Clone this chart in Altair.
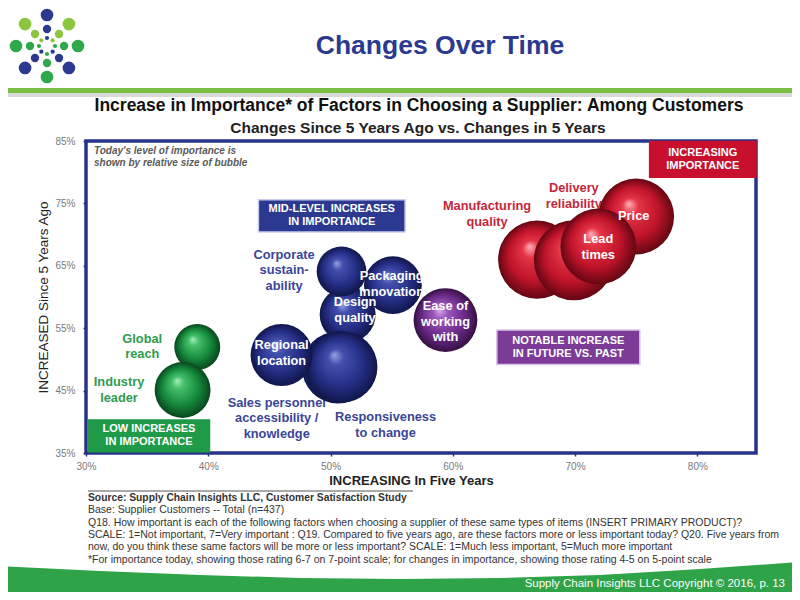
import altair as alt
import numpy as np
import pandas as pd

FONT = "Liberation Sans, Arial, Helvetica, sans-serif"

# ---------------- chart data ----------------
factors = ["Global reach", "Industry leader",
           "Design quality", "Sales personnel accessibility / knowledge",
           "Responsiveness to change", "Regional location",
           "Packaging innovation", "Corporate sustainability",
           "Ease of working with",
           "Manufacturing quality", "Delivery reliability", "Price", "Lead times"]
groups = ["low", "low",
          "mid", "mid", "mid", "mid", "mid", "mid",
          "notable",
          "high", "high", "high", "high"]
increasing_in_five_years = [39.1, 37.9, 51.4, 50.6, 50.9, 46.0, 55.1, 50.9, 59.4, 66.9, 69.9, 75.0, 71.9]
increased_since_five_years = [52.0, 45.1, 57.2, 48.7, 48.8, 50.7, 61.9, 64.1, 56.3, 66.0, 65.9, 72.9, 68.1]
importance_today = [29, 43, 43, 71, 71, 53, 46, 34, 56, 84, 88, 79, 79]

label_text = ["Global\nreach", "Industry\nleader", "Sales personnel\naccessibility /\nknowledge",
              "Responsiveness\nto change", "Corporate\nsustain-\nability",
              "Manufacturing\nquality", "Delivery\nreliability",
              "Regional\nlocation", "Design\nquality", "Packaging\ninnovation",
              "Ease of\nworking\nwith", "Lead\ntimes", "Price"]
label_x = [34.6, 32.7, 45.6, 54.5, 46.2, 62.8, 69.9, 46.0, 52.0, 55.0, 59.4, 71.9, 74.8]
label_y = [52.1, 45.1, 40.6, 39.5, 64.3, 73.3, 76.2, 51.0, 57.9, 62.1, 56.0, 68.0, 73.0]
label_group = ["low", "low", "mid", "mid", "mid", "high", "high",
               "mid", "mid", "mid", "notable", "high", "high"]
label_inside = [False, False, False, False, False, False, False,
                True, True, True, True, True, True]

box_text = ["MID-LEVEL INCREASES\nIN IMPORTANCE", "INCREASING\nIMPORTANCE",
            "NOTABLE INCREASE\nIN FUTURE VS. PAST", "LOW INCREASES\nIN IMPORTANCE"]
box_group = ["mid", "high", "notable", "low"]
box_x1 = [44.1, 76.1, 63.6, 30.2]
box_x2 = [56.1, 84.8, 75.3, 40.1]
box_y1 = [70.4, 79.2, 49.2, 35.2]
box_y2 = [75.6, 84.9, 54.7, 40.3]

x_ticks = [30, 40, 50, 60, 70, 80]
y_ticks = [35, 45, 55, 65, 75, 85]

source_lines = [
    "Source:  Supply Chain Insights LLC, Customer Satisfaction Study",
    "Base: Supplier Customers -- Total (n=437)",
    "Q18. How important is each of the following factors when choosing a supplier of these same types of items (INSERT PRIMARY PRODUCT)?",
    "SCALE: 1=Not important, 7=Very important : Q19. Compared to five years ago, are these factors more or less important today? Q20. Five years from",
    "now, do you think these same factors will be more or less important? SCALE: 1=Much less important, 5=Much more important",
    "*For importance today, showing those rating 6-7 on 7-point scale; for changes in importance, showing those rating 4-5 on 5-point scale",
]

# ---------------- styling ----------------
NAVY = "#27338a"
GROUP_COLOR = {"low": "#2e9c4e", "mid": "#3a4598", "notable": "#7b3a96", "high": "#c4273b"}
BOX_FILL = {"low": "#1f9a48", "mid": "#2b3990", "notable": "#7d3b98", "high": "#c8102e"}
BOX_STROKE = {"low": "#1f9a48", "mid": "#c9cdee", "notable": "#d9c6e6", "high": "#c8102e"}
STOPS = {
    "low": [(0, "#a6efbb"), (0.22, "#45c06c"), (0.65, "#16893c"), (1, "#08461e")],
    "mid": [(0, "#9aa2e4"), (0.22, "#4250ad"), (0.65, "#262f86"), (1, "#10164a")],
    "notable": [(0, "#dcb2ee"), (0.22, "#9d58bc"), (0.65, "#6d2b8a"), (1, "#351043")],
    "high": [(0, "#ffb0ba"), (0.22, "#e43446"), (0.65, "#c0142b"), (1, "#640612")],
}

W, H = 670, 312
LEFT, TOP = 78, 133            # page plot origin = (86, 141)
OX, OY = LEFT + 8, TOP + 8
Y_DOMAIN = [35, 85]
PX_PER_UNIT = H / (Y_DOMAIN[1] - Y_DOMAIN[0])
LABEL_LH = 15.5
BOX_LH = 13

xs = alt.Scale(domain=[30, 84.8], nice=False, zero=False)
ys = alt.Scale(domain=Y_DOMAIN, nice=False, zero=False)
ss = alt.Scale(domain=[0, 100], range=[0, 7273], zero=True)

bub_df = pd.DataFrame({"factor": factors, "group": groups,
                       "nx": increasing_in_five_years, "ny": increased_since_five_years,
                       "imp": importance_today})


def centred(y_center, text, lh):
    # multi-line text is drawn downward from its first line: lift the anchor so the block is centred
    n = text.count("\n") + 1
    return y_center + (n - 1) * lh / 2 / PX_PER_UNIT


lab_df = pd.DataFrame({"t": label_text, "lx": label_x, "ly": label_y,
                       "g": label_group, "inside": label_inside})
lab_df["ly"] = [centred(y, t, LABEL_LH) for y, t in zip(lab_df.ly, lab_df.t)]
lab_df["c"] = [("#ffffff" if i else GROUP_COLOR[g]) for g, i in zip(lab_df.g, lab_df.inside)]

box_df = pd.DataFrame({"t": box_text, "g": box_group, "x1": box_x1, "x2": box_x2,
                       "y1": box_y1, "y2": box_y2})
box_df["fill"] = box_df.g.map(BOX_FILL)
box_df["stroke"] = box_df.g.map(BOX_STROKE)
box_df["cx"] = (box_df.x1 + box_df.x2) / 2
box_df["cy"] = [centred((a + b) / 2, t, BOX_LH) for a, b, t in zip(box_df.y1, box_df.y2, box_df.t)]

xaxis = alt.Axis(values=x_ticks, labelExpr="datum.value + '%'", labelFont=FONT, labelFontSize=10,
                 labelColor="#7a7a7a", labelFlush=False, labelPadding=5, tickColor=NAVY, tickSize=3,
                 tickWidth=1.5, domain=False, grid=False, title="INCREASING In Five Years",
                 titleFont=FONT, titleFontSize=13, titleFontWeight="bold", titleColor="#222222",
                 titlePadding=3, titleX=325)
yaxis = alt.Axis(values=y_ticks, labelExpr="datum.value + '%'", labelFont=FONT, labelFontSize=10,
                 labelColor="#7a7a7a", labelFlush=False, labelPadding=8, tickColor=NAVY, tickSize=3,
                 tickWidth=1.5, domain=False, grid=False, title="INCREASED Since 5 Years Ago",
                 titleFont=FONT, titleFontSize=13.5, titleFontWeight="normal", titleColor="#222222",
                 titlePadding=4)


def pix(df):
    df = df.copy()
    df["px"] = df["X"] - OX
    df["py"] = df["Y"] - OY
    return df


def texts(rows, **kw):
    df = pix(pd.DataFrame(rows, columns=["t", "X", "Y"]))
    return alt.Chart(df).mark_text(font=FONT, lineBreak="\n", **kw).encode(
        x=alt.X("px:Q", scale=None, axis=None),
        y=alt.Y("py:Q", scale=None, axis=None),
        text="t:N")


def bubbles(g, axes=False):
    grad = alt.RadialGradient(
        gradient="radial",
        stops=[alt.GradientStop(offset=o, color=c) for o, c in STOPS[g]],
        x1=0.4, y1=0.33, r1=0.0, x2=0.5, y2=0.5, r2=0.5)
    return alt.Chart(bub_df).transform_filter(alt.datum.group == g).mark_circle(
        color=grad, opacity=1).encode(
        x=alt.X("nx:Q", scale=xs, axis=xaxis if axes else None),
        y=alt.Y("ny:Q", scale=ys, axis=yaxis if axes else None),
        size=alt.Size("imp:Q", scale=ss, legend=None))


def labels(flt):
    return alt.Chart(lab_df).transform_filter(flt).mark_text(
        font=FONT, fontSize=12.8, fontWeight="bold", lineBreak="\n", lineHeight=LABEL_LH).encode(
        x=alt.X("lx:Q", scale=xs, axis=None),
        y=alt.Y("ly:Q", scale=ys, axis=None),
        text="t:N",
        color=alt.Color("c:N", scale=None))


# ---------------- decorations (page-pixel layout) ----------------
footer_df = pix(pd.DataFrame({"X": [0, 100, 200, 300, 400, 500, 600, 700, 800],
                              "Y": [566, 571, 575, 578, 579, 578, 575, 569, 562]}))
footer_df["pyb"] = 600 - OY
footer = alt.Chart(footer_df).mark_area(color="#2fa347").encode(
    x=alt.X("px:Q", scale=None, axis=None),
    y=alt.Y("py:Q", scale=None, axis=None),
    y2="pyb:Q")

bars_df = pd.DataFrame({"X": [8, 8], "X2": [792, 792], "Y": [88, 93], "Y2": [93, 97],
                        "c": ["#79bf43", "#d9d9d9"]})
bars_df["px"], bars_df["px2"] = bars_df.X - OX, bars_df.X2 - OX
bars_df["py"], bars_df["py2"] = bars_df.Y - OY, bars_df.Y2 - OY
bars = alt.Chart(bars_df).mark_rect().encode(
    x=alt.X("px:Q", scale=None, axis=None), x2="px2:Q",
    y=alt.Y("py:Q", scale=None, axis=None), y2="py2:Q",
    color=alt.Color("c:N", scale=None))

# logo: three rings of dots
ring_radius = [31, 17, 8]
ring_size = [160, 70, 18]
ring_colors = ["#2b3990", "#8cc63f", "#2ea84a", "#2b3990", "#2ea84a", "#2b3990", "#2ea84a", "#8cc63f"]
logo_rows = []
for rr, sz in zip(ring_radius, ring_size):
    for k, col in enumerate(ring_colors):
        ang = np.deg2rad(90 - 45 * k)
        logo_rows.append((47 + rr * np.cos(ang), 46 - rr * np.sin(ang), sz, col))
logo_df = pix(pd.DataFrame(logo_rows, columns=["X", "Y", "s", "c"]))
logo = alt.Chart(logo_df).mark_circle(opacity=1).encode(
    x=alt.X("px:Q", scale=None, axis=None),
    y=alt.Y("py:Q", scale=None, axis=None),
    size=alt.Size("s:Q", scale=None, legend=None),
    color=alt.Color("c:N", scale=None))

header = texts([("Changes Over Time", 440, 46)], fontSize=26.5, fontWeight="bold", color="#2b3990")
sub1 = texts([("Increase in Importance* of Factors in Choosing a Supplier:  Among Customers", 419, 106)],
             fontSize=17.5, fontWeight="bold", color="#111111")
sub2 = texts([("Changes Since 5 Years Ago vs. Changes in 5 Years", 418, 128)],
             fontSize=15.5, fontWeight="bold", color="#222222")
note = texts([("Today's level of importance is\nshown by relative size of bubble", 94, 151)],
             fontSize=10, fontStyle="italic", fontWeight="bold", color="#5a5a5a", align="left",
             lineHeight=12)
src1 = texts([(source_lines[0], 88, 498)], fontSize=10.3, fontWeight="bold", color="#333333",
             align="left")
src = texts([(s, 88, 498 + 12.3 * i) for i, s in enumerate(source_lines) if i > 0],
            fontSize=10.5, color="#333333", align="left")
sep_df = pix(pd.DataFrame({"X": [88], "Y": [491]}))
sep_df["px2"] = 413 - OX
sep = alt.Chart(sep_df).mark_rule(color="#555555", strokeWidth=1).encode(
    x=alt.X("px:Q", scale=None, axis=None), x2="px2:Q",
    y=alt.Y("py:Q", scale=None, axis=None))
foot_txt = texts([("Supply Chain Insights LLC Copyright \u00a9 2016, p. 13", 785, 584)],
                 fontSize=11.5, color="#ffffff", align="right")

# ---------------- quadrant boxes ----------------
boxes = alt.Chart(box_df).mark_rect(strokeWidth=1.5).encode(
    x=alt.X("x1:Q", scale=xs, axis=None), x2="x2:Q",
    y=alt.Y("y1:Q", scale=ys, axis=None), y2="y2:Q",
    fill=alt.Fill("fill:N", scale=None),
    stroke=alt.Stroke("stroke:N", scale=None))
box_labels = alt.Chart(box_df).mark_text(
    font=FONT, fontSize=11, fontWeight="bold", color="white", lineBreak="\n", lineHeight=BOX_LH).encode(
    x=alt.X("cx:Q", scale=xs, axis=None),
    y=alt.Y("cy:Q", scale=ys, axis=None),
    text="t:N")

chart = alt.layer(
    footer, bars, logo, header, sub1, sub2, note, src1, src, sep, foot_txt,
    boxes, box_labels,
    labels(alt.datum.inside == False),
    bubbles("low", axes=True),
    bubbles("mid"),
    labels((alt.datum.inside == True) & (alt.datum.g == "mid")),
    bubbles("notable"),
    labels((alt.datum.inside == True) & (alt.datum.g == "notable")),
    bubbles("high"),
    labels((alt.datum.inside == True) & (alt.datum.g == "high")),
).resolve_scale(
    x="independent", y="independent", size="independent", color="independent"
).properties(
    width=W, height=H,
    autosize=alt.AutoSizeParams(type="none"),
    padding={"left": LEFT, "top": TOP, "right": 784 - LEFT - W, "bottom": 584 - TOP - H},
).configure_view(stroke=NAVY, strokeWidth=3.5)

chart.save("out.html", embed_options={"renderer": "svg", "actions": False})
